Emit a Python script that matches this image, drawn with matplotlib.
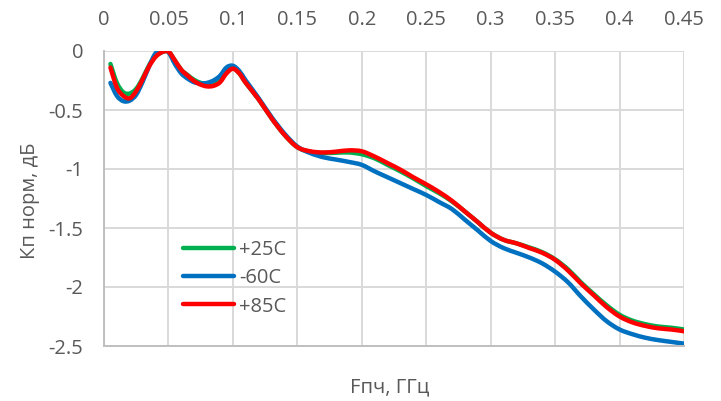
import numpy as np
import matplotlib
matplotlib.use('Agg')
import matplotlib.pyplot as plt
from matplotlib.path import Path
from matplotlib.patches import PathPatch
from matplotlib.lines import Line2D

plt.rcParams['font.family'] = ['Open Sans', 'DejaVu Sans']

# частота ПЧ, ГГц
f = [0.005, 0.01, 0.015, 0.02, 0.025, 0.03, 0.035, 0.04, 0.045, 0.05,
     0.055, 0.06, 0.065, 0.07, 0.075, 0.08, 0.085, 0.09, 0.095, 0.1,
     0.105, 0.11, 0.12, 0.13, 0.14, 0.15, 0.16, 0.17, 0.18, 0.19,
     0.2, 0.21, 0.22, 0.23, 0.24, 0.25, 0.26, 0.27, 0.28, 0.29,
     0.3, 0.31, 0.32, 0.33, 0.34, 0.35, 0.36, 0.37, 0.38, 0.39,
     0.4, 0.41, 0.42, 0.43, 0.44, 0.45]

kp_p25 = [-0.11, -0.27, -0.35, -0.36, -0.32, -0.23, -0.12, -0.045, -0.01, -0.005,
          -0.08, -0.16, -0.205, -0.245, -0.27, -0.285, -0.28, -0.25, -0.18, -0.145,
          -0.19, -0.27, -0.41, -0.57, -0.71, -0.815, -0.855, -0.865, -0.862, -0.86,
          -0.875, -0.91, -0.965, -1.02, -1.08, -1.145, -1.205, -1.275, -1.36, -1.45,
          -1.54, -1.60, -1.63, -1.665, -1.705, -1.765, -1.85, -1.96, -2.06, -2.155,
          -2.235, -2.285, -2.315, -2.335, -2.345, -2.36]

kp_m60 = [-0.27, -0.38, -0.425, -0.42, -0.37, -0.26, -0.13, -0.02, 0.0, -0.01,
          -0.11, -0.19, -0.235, -0.265, -0.275, -0.27, -0.25, -0.21, -0.14, -0.125,
          -0.17, -0.25, -0.40, -0.56, -0.70, -0.81, -0.865, -0.90, -0.92, -0.94,
          -0.965, -1.02, -1.07, -1.12, -1.17, -1.22, -1.28, -1.34, -1.43, -1.52,
          -1.61, -1.67, -1.71, -1.75, -1.80, -1.87, -1.96, -2.08, -2.19, -2.29,
          -2.36, -2.40, -2.43, -2.45, -2.465, -2.48]

kp_p85 = [-0.14, -0.31, -0.38, -0.40, -0.34, -0.24, -0.13, -0.05, -0.01, -0.005,
          -0.08, -0.16, -0.21, -0.255, -0.285, -0.30, -0.295, -0.265, -0.19, -0.15,
          -0.19, -0.27, -0.41, -0.57, -0.71, -0.815, -0.85, -0.86, -0.853, -0.842,
          -0.85, -0.895, -0.95, -1.006, -1.07, -1.13, -1.195, -1.27, -1.36, -1.45,
          -1.54, -1.60, -1.63, -1.67, -1.71, -1.77, -1.86, -1.97, -2.07, -2.17,
          -2.25, -2.30, -2.33, -2.35, -2.36, -2.375]

series = [('+25C', kp_p25, '#00B050'),
          ('-60C', kp_m60, '#0070C0'),
          ('+85C', kp_p85, '#FF0000')]


def smooth_path(x, y):
    # сглаженная линия как в Excel: кривые Безье через точки (Catmull-Rom)
    x = np.asarray(x, float)
    y = np.asarray(y, float)
    verts = [(x[0], y[0])]
    codes = [Path.MOVETO]
    n = len(x)
    for i in range(n - 1):
        x0, y0 = (x[i - 1], y[i - 1]) if i > 0 else (x[i], y[i])
        x3, y3 = (x[i + 2], y[i + 2]) if i + 2 < n else (x[i + 1], y[i + 1])
        c1 = (x[i] + (x[i + 1] - x0) / 6, y[i] + (y[i + 1] - y0) / 6)
        c2 = (x[i + 1] - (x3 - x[i]) / 6, y[i + 1] - (y3 - y[i]) / 6)
        verts += [c1, c2, (x[i + 1], y[i + 1])]
        codes += [Path.CURVE4] * 3
    return Path(verts, codes)


fig = plt.figure(figsize=(7.21, 4.01), dpi=100)
ax = fig.add_axes([104 / 721, 1 - 346 / 401, 580 / 721, 295 / 401])

handles = []
for name, vals, col in series:
    ax.add_patch(PathPatch(smooth_path(f, vals), fill=False, edgecolor=col,
                           lw=3.2, capstyle='round', joinstyle='round'))
    handles.append(Line2D([], [], color=col, lw=3.2, solid_capstyle='round', label=name))

ax.set_xlim(0, 0.45)
ax.set_ylim(-2.5, 0)
ax.set_xticks(np.arange(0, 0.451, 0.05))
ax.set_xticklabels(['0', '0.05', '0.1', '0.15', '0.2', '0.25', '0.3', '0.35', '0.4', '0.45'])
ax.set_yticks([0, -0.5, -1, -1.5, -2, -2.5])
ax.set_yticklabels(['0', '-0.5', '-1', '-1.5', '-2', '-2.5'])

ax.xaxis.tick_top()
ax.tick_params(axis='both', length=0, labelsize=14.5, labelcolor='#595959')
ax.tick_params(axis='x', pad=15)
ax.tick_params(axis='y', pad=15)

ax.grid(True, color='#d9d9d9', lw=1.4)
ax.set_axisbelow(True)
for s in ['top', 'right']:
    ax.spines[s].set_visible(False)
for s in ['left', 'bottom']:
    ax.spines[s].set_color('#bfbfbf')
    ax.spines[s].set_linewidth(1.4)

fig.text(0.541, 0.035, 'Fпч, ГГц', ha='center', va='center', fontsize=14.5, color='#595959')
fig.text(0.042, 0.5, 'Кп норм, дБ', ha='center', va='center', rotation=90,
         fontsize=14.5, color='#595959')

leg = ax.legend(handles=handles, loc='center left', bbox_to_anchor=(0.118, 0.229),
                frameon=False, fontsize=14.5, handlelength=2.55, handletextpad=0.25,
                labelspacing=0.4, borderpad=0)
for t in leg.get_texts():
    t.set_color('#595959')

fig.savefig('out.png', dpi=100)
